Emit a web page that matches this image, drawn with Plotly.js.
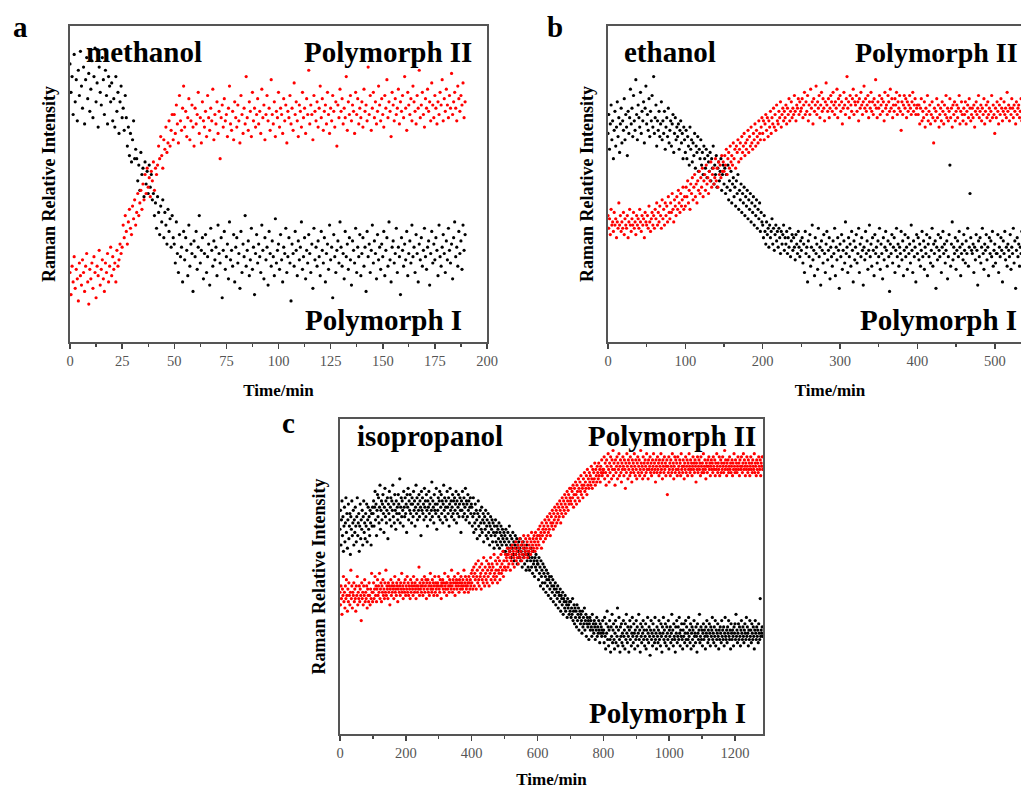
<!DOCTYPE html>
<html>
<head>
<meta charset="utf-8">
<script src="https://cdn.plot.ly/plotly-3.0.1.min.js"></script>
<style>
html, body { margin: 0; padding: 0; overflow: hidden; background: #fff; }
#chart { width: 1080px; height: 789px; }
</style>
</head>
<body>
<div id="chart"></div>
<script>
// ---------- data (relative Raman intensity, 0 = frame bottom, 100 = frame top) ----------
const panelLetters = ['a', 'b', 'c'];
const solvents = ['methanol', 'ethanol', 'isopropanol'];
const seriesNames = ['Polymorph I', 'Polymorph II'];

// sampling interval of each run (min)
const methanolStep = 0.5;
const ethanolStep = 1;
const isopropanolStep = 1.5;

const methanolTicks = [0, 25, 50, 75, 100, 125, 150, 175, 200];
const ethanolTicks = [0, 100, 200, 300, 400, 500];
const isopropanolTicks = [0, 200, 400, 600, 800, 1000, 1200];

const methanolPolyI = [
88,79,84,72,91,76,83,70,86,78,92,81,74,87,69,83,90,77,85,73,80,89,71,84,93,76,82,68,87,79,75,90,83,72,86,78,69,84,81,76,
82,70,77,68,84,73,79,66,76,81,71,74,67,78,
71,62,68,59,66,57,64,70,58,61,
58,51,56,48,60,53,55,46,57,50,54,47,56,49,53,45,
47,40,44,36,46,41,34,43,38,45,33,41,37,31,42,35,39,30,40,33,
31,25,38,28,22,34,27,30,19,35,26,33,29,21,37,24,31,28,16,32,27,35,23,30,40,25,29,33,20,28,
34,22,27,31,18,36,29,24,32,26,30,21,37,28,25,33,14,29,35,23,27,31,20,38,26,29,24,34,19,30,
33,25,28,17,35,22,31,27,40,24,29,32,21,26,36,23,30,15,28,34,25,31,27,22,37,29,20,33,26,30,
18,35,28,24,32,27,21,39,25,29,31,23,34,26,19,30,28,36,22,27,33,25,13,31,28,24,35,29,21,32,
26,30,38,23,27,33,20,29,25,34,28,22,31,17,36,26,30,24,32,27,21,35,29,25,33,19,28,31,23,37,
26,30,14,34,27,22,29,32,25,38,30,24,28,20,35,27,31,23,33,26,18,32,29,25,36,22,30,27,34,21,
28,33,24,30,16,35,27,31,22,29,37,25,32,28,20,34,26,30,23,31,27,35,21,29,33,24,38,26,19,30,
32,25,28,36,22,30,27,15,33,29,24,31,26,35,21,28,32,25,37,27,30,22,34,28,19,31,26,33,24,29,
36,27,23,30,32,18,28,35,25,31,26,33,29,21,37,27,24,30,34,28,22,32,26,36,29,25,31,20,33,38,
27,30,24,35,28,32,23,37,29,34
];
const methanolPolyII = [
22,15,24,19,27,17,23,20,13,25,21,18,26,22,16,24,28,19,12,23,20,25,17,27,22,14,24,21,29,18,
23,26,20,16,25,22,28,19,24,30,21,27,23,25,19,29,24,26,31,28,
30,37,33,40,35,31,38,42,36,34,43,39,45,37,41,47,40,44,48,42,
50,45,53,47,55,49,52,46,54,51,57,48,55,53,
56,62,58,65,59,55,64,61,68,60,63,70,62,67,72,64,
72,66,75,69,63,78,70,67,74,81,68,73,65,71,77,64,70,75,68,62,74,69,72,79,66,71,63,76,70,68,
73,65,78,71,67,74,70,80,64,72,69,76,66,73,58,71,75,68,77,70,72,65,74,81,69,67,73,64,76,71,
68,75,70,63,78,72,66,74,69,84,71,67,76,73,65,79,70,74,68,72,77,69,73,66,80,71,75,64,72,78,
70,74,67,83,72,69,76,65,73,71,79,68,74,72,66,77,70,75,63,73,71,78,69,74,67,82,72,76,70,65,
75,73,68,79,71,74,66,77,72,86,69,75,72,64,78,73,70,76,68,74,81,71,77,67,73,75,69,79,72,66,
74,70,78,73,68,76,62,75,71,80,73,77,69,74,71,84,67,76,72,78,70,75,73,66,79,72,77,69,74,71,
76,68,80,73,75,70,87,72,78,67,74,79,71,76,69,73,81,75,70,77,72,68,78,74,83,71,76,73,65,79,
75,70,77,72,74,80,69,76,73,78,71,84,74,67,79,75,72,77,70,81,76,73,69,78,74,86,71,75,79,72,
68,77,74,80,73,76,70,82,75,71,78,74,69,76,72,79,75,83,70,77,73,80,75,71,78,74,85,72,76,79,
74,70,81,77,73,78,75,82,71,76
];

const ethanolPolyI = [
66,72,61,69,75,64,70,58,67,73,62,68,76,65,71,60,69,74,63,70,67,77,64,72,68,59,73,66,71,80,
69,74,65,78,70,67,83,72,64,75,71,68,79,66,73,70,76,63,74,81,69,72,67,77,65,73,70,78,68,84,
66,71,75,62,70,67,73,65,69,76,64,70,66,73,61,68,71,65,74,63,67,70,62,69,72,60,66,71,64,68,
65,69,61,67,70,63,66,58,68,64,
60,67,58,65,62,56,68,61,64,57,63,59,66,55,62,60,65,54,61,58,64,56,60,53,62,58,55,61,52,59,
57,54,60,51,58,55,62,50,56,53,59,49,55,57,51,54,58,48,53,56,
50,55,47,53,49,56,45,51,48,54,44,50,52,46,49,43,51,47,53,42,48,45,50,41,47,44,49,40,46,43,
48,39,45,42,47,38,44,41,46,37,43,40,45,36,42,39,44,35,41,38,
37,33,40,35,31,38,34,36,30,37,33,35,39,31,36,29,34,37,32,35,30,36,33,28,35,31,34,37,29,33,
31,35,28,33,30,36,27,32,34,29,33,30,26,34,31,28,35,30,27,32,
29,33,25,31,22,35,28,30,19,32,27,34,24,30,37,26,29,21,33,28,31,23,36,27,30,18,32,29,25,34,
28,22,31,35,26,29,33,20,30,27,24,32,28,36,21,30,26,33,29,17,31,27,34,23,29,32,25,38,28,30,
22,33,27,31,24,35,29,19,32,26,30,34,25,28,36,22,31,27,33,29,18,30,26,35,28,32,23,29,37,27,
31,24,33,29,21,34,28,30,25,32,27,36,23,31,28,20,33,26,30,35,29,24,32,27,16,31,28,34,25,30,
33,22,29,36,27,31,24,30,28,35,26,32,21,29,34,27,30,23,33,28,31,25,37,29,22,32,27,30,19,34,
28,33,26,31,24,29,35,27,32,23,30,28,34,21,31,27,33,25,29,36,24,31,28,32,17,30,26,34,29,27,
33,22,30,35,28,31,25,29,32,20,27,34,56,24,31,38,26,30,28,33,23,29,32,27,35,30,21,28,31,26,
34,29,25,32,28,36,24,30,47,33,29,28,31,22,30,26,34,29,18,32,27,33,25,30,36,28,23,31,29,34,
26,30,21,33,28,32,27,35,24,29,31,25,28,28,34,22,30,27,33,29,19,32,28,35,26,30,24,31,29,27,
34,23,30,28,36,25,32,17,29,33,27,31,24,30,28,35,22,32,26,30,33,28,25,31,37,27,29,23,34,30,
26,32,29,21,31,28,35,27,30,24,33,29
];
const ethanolPolyII = [
40,36,39,34,42,37,38,35,41,37,39,33,38,36,44,37,40,35,38,36,41,34,39,37,36,40,33,38,42,37,
35,39,37,41,36,38,34,40,37,39,36,42,38,35,40,37,39,33,41,38,37,40,36,43,38,35,39,41,37,40,
36,42,39,44,37,41,38,43,40,36,45,39,42,37,44,40,43,38,46,41,39,44,41,47,42,38,45,43,40,46,
42,48,44,41,47,43,45,49,42,46,
43,49,46,51,44,48,42,50,47,52,45,49,53,46,50,44,51,48,54,47,52,49,55,46,51,53,48,56,50,52,
47,54,51,57,49,53,55,50,52,58,51,55,49,57,53,56,52,59,54,57,
54,59,56,61,53,58,60,55,62,57,59,56,63,58,61,55,62,60,64,57,61,63,58,65,60,62,66,59,63,61,
64,67,60,65,62,68,63,61,66,64,69,62,67,65,63,70,66,64,68,71,
66,70,64,69,72,67,71,65,70,68,73,66,71,69,74,68,72,67,75,70,69,73,71,76,68,72,74,70,73,71,
75,69,74,72,77,70,73,76,71,74,72,78,73,70,75,74,77,72,76,73,
74,77,71,75,79,72,76,73,78,70,75,72,80,74,76,69,77,73,75,81,72,76,74,78,71,75,79,73,77,74,
70,76,82,75,73,77,71,74,78,76,73,79,75,72,76,74,80,71,77,75,78,73,76,69,74,79,75,72,77,84,
74,76,71,78,75,73,77,80,72,76,75,78,73,76,70,77,74,79,75,72,76,81,74,77,73,75,78,71,76,74,
79,73,76,72,77,75,83,74,71,76,74,78,72,75,77,73,76,70,79,74,75,72,78,76,73,80,74,77,71,75,
73,77,75,79,72,76,74,78,73,67,76,72,75,78,74,77,71,76,73,75,78,74,72,76,79,73,75,77,72,74,
75,
72,75,69,74,77,70,73,71,76,68,74,72,78,70,73,75,69,72,76,71,63,74,70,73,77,71,75,68,72,74,
70,76,73,69,75,72,78,71,74,70,73,77,71,74,68,75,72,76,70,73,75,71,74,78,69,73,76,72,70,74,
72,76,69,73,75,71,77,74,70,72,74,71,75,68,73,76,72,74,78,71,73,75,70,74,72,77,69,73,75,71,
76,72,74,70,73,78,71,75,72,66,74,71,76,73,69,75,72,77,74,70,73,76,72,74,71,79,73,75,70,74,
72,77,74,71,75,73,69,76,72,74,75,71,73,77,70,74,72,76,73,75,71,74,78,72,75,70,73,76,74,72,
77,73,75,71,74,72,76,73,70,75,74
];

const isopropanolPolyI = [
65,71,60,68,74,63,69,58,66,72,61,67,75,64,70,59,68,73,62,66,70,57,69,65,74,63,67,71,60,68,
64,72,66,61,69,75,63,67,70,58,66,73,62,68,65,71,60,69,74,64,67,62,70,66,73,61,68,72,65,69,
63,71,67,60,70,66,72,
70,74,66,72,77,68,73,63,71,76,69,75,67,72,79,65,71,74,68,73,76,70,64,72,78,69,74,67,71,75,
62,73,70,77,68,72,75,66,74,71,79,69,73,67,76,71,65,74,70,72,68,76,73,70,81,67,72,75,69,74,
71,66,77,72,69,75,70,73,64,76,72,78,68,74,71,76,70,73,67,75,73,69,77,71,74,66,72,79,70,75,
68,73,71,76,69,74,72,63,77,71,75,70,73,68,78,72,74,69,76,71,66,74,72,77,70,73,68,75,71,80,
69,74,72,67,76,71,73,70,78,65,73,71,75,69,74,77,68,72,76,70,74,67,73,79,71,75,69,72,74,68,
77,72,70,75,66,73,78,71,74,69,72,76,70,74,68,75,71,73,77,67,74,70,72,76,69,73,75,71,64,74,
71,77,69,73,75,70,72,78,68,74,73,69,76,71,74,67,72,75,70,73,
72,66,69,75,64,70,67,73,65,71,68,62,70,74,66,69,63,71,67,65,72,64,68,70,61,67,69,65,71,63,
66,68,62,70,64,67,60,66,69,63,65,68,61,67,64,59,66,63,68,61,64,66,60,65,62,67,59,64,61,66,
63,60,65,62,58,64,61,
63,58,65,60,62,57,64,59,61,66,58,63,60,56,62,59,64,57,61,55,60,63,57,59,62,54,60,58,61,56,
59,62,55,58,60,53,57,61,56,59,54,58,57,52,60,55,57,53,58,56,52,57,55,59,53,56,51,58,54,55,
50,56,53,57,52,55,54,
54,49,56,51,53,47,55,50,52,48,54,46,51,53,48,50,45,52,49,47,51,44,49,50,46,48,43,50,47,45,
49,42,47,46,44,48,41,46,45,43,47,40,45,44,42,46,39,44,43,41,45,38,43,42,40,44,39,42,41,37,
43,40,41,38,42,39,
42,37,40,38,43,36,39,41,35,40,37,39,34,41,36,38,40,33,37,39,35,38,36,32,39,34,37,35,40,33,
36,38,31,35,37,34,36,30,35,37,33,36,34,31,38,33,35,32,36,34,30,35,33,37,31,34,32,36,33,29,
35,32,34,31,33,36,32,
33,29,37,31,27,35,32,39,30,34,28,33,36,30,26,34,31,38,29,33,35,30,27,32,36,29,34,31,40,28,
33,37,30,26,34,31,35,29,32,28,36,31,33,27,35,30,38,32,29,34,31,26,33,36,30,34,28,32,37,31,
29,35,32,27,33,30,36,31,34,28,32,38,30,33,26,35,31,29,34,32,36,30,33,28,31,35,27,33,30,37,
32,29,34,31,25,33,36,30,32,28,35,31,33,29,37,30,32,27,34,31,29,33,36,30,32,28,35,31,26,34,
32,37,30,33,29,35,31,28,34,32,30,36,27,33,31,34,29,32,38,30,33,28,35,31,30,26,34,32,36,29,
31,34,30,37,32,28,33,31,35,30,27,33,31,35,29,32,36,30,34,28,32,30,37,31,33,29,35,27,32,34,
30,33,28,36,31,32,29,34,31,26,35,32,30,33,38,29,31,34,30,33,28,32,35,30,33,31,27,34,32,36,
31,29,33,30,35,32,28,34,31,33,37,30,32,29,34,31,36,28,33,30,32,35,31,27,33,30,34,32,29,36,
31,33,30,34,28,32,37,31,30,33,29,34,32,36,31,30,33,27,35,32,30,33,31,28,34,32,35,30,38,31,
33,29,32,35,30,34,31,28,33,36,32,30,34,31,29,33,35,32,30,37,31,34,32,28,33,30,36,31,33,29,
35,32,30,34,31,27,33,36,32,30,34,31,33,29,35,32,30,43,31,33,32,34,31
];
const isopropanolPolyII = [
45,41,47,43,38,46,44,50,42,45,40,47,43,49,44,39,46,42,48,44,41,45,52,43,47,40,45,44,48,42,
46,43,39,47,44,50,41,45,43,47,42,46,44,36,48,43,45,41,47,44,49,42,45,43,47,40,46,44,42,48,
44,41,46,43,51,45,42,
45,48,43,46,50,44,47,42,46,49,44,47,45,51,43,46,48,42,47,45,49,44,46,43,48,45,52,44,47,46,
43,48,45,47,41,46,49,44,47,45,48,46,43,47,50,45,46,44,48,47,42,46,49,45,47,44,48,46,51,45,
47,43,46,48,45,49,44,47,46,50,45,48,44,47,46,43,49,45,47,48,46,44,50,47,45,48,46,43,47,49,
45,47,46,53,44,48,46,47,45,49,47,44,48,46,50,45,47,49,43,48,46,49,45,47,44,48,51,46,47,45,
49,46,48,44,47,50,45,48,46,47,44,48,47,50,46,45,49,47,43,48,47,49,46,48,45,51,47,46,48,44,
48,46,50,47,45,49,47,48,46,52,47,45,49,48,46,50,44,48,47,49,46,48,51,47,45,49,48,46,50,47,
48,46,49,47,52,45,48,50,47,46,49,47,48,45,50,48,46,49,47,51,
48,52,46,50,53,47,51,49,54,46,50,52,48,55,49,47,53,50,51,46,54,49,52,48,56,50,47,53,51,49,
55,48,52,50,54,47,53,51,56,49,52,54,48,53,50,57,51,49,55,52,50,54,48,56,52,51,55,49,53,57,
51,54,52,58,50,55,53,
53,57,52,56,55,59,53,57,54,58,56,52,59,55,57,60,54,58,56,53,59,57,61,55,58,56,60,54,59,57,
62,56,58,60,55,61,57,59,63,56,60,58,62,57,59,61,56,63,58,60,62,59,57,61,64,58,60,62,59,63,
61,58,64,60,62,59,63,
61,65,60,63,66,62,64,59,67,63,65,61,66,64,68,62,65,67,63,69,66,64,68,65,70,63,67,69,66,71,
67,65,70,68,72,66,69,71,67,73,70,68,72,69,74,71,67,73,70,75,72,69,74,71,76,73,70,75,72,77,
74,71,76,73,78,75,
74,78,73,77,75,79,72,76,78,74,80,76,73,79,77,75,81,78,74,80,77,82,76,79,78,75,81,79,83,77,
80,78,82,76,84,79,81,78,83,80,82,79,85,81,78,84,80,83,81,86,79,84,82,80,85,83,81,86,82,84,
80,85,83,87,82,84,83,
84,88,81,86,83,79,87,85,82,89,84,80,86,83,88,85,81,87,84,90,82,86,84,79,87,83,85,88,81,86,
84,89,82,85,87,83,80,86,84,88,85,82,87,84,78,86,83,89,85,81,87,84,86,82,88,83,85,80,87,84,
86,83,89,85,82,87,84,81,86,88,83,85,87,82,84,90,86,83,85,81,88,84,86,82,87,85,83,89,84,86,
81,87,84,85,88,83,86,82,84,87,85,89,83,86,84,80,87,85,83,88,84,86,82,87,85,83,89,84,86,81,
87,85,83,88,84,86,82,85,87,76,85,83,88,84,86,82,87,85,83,89,84,86,81,85,88,83,87,84,86,82,
88,84,85,83,87,86,82,89,84,85,83,87,85,81,86,84,88,83,85,87,82,86,84,89,85,83,87,84,86,82,
85,88,84,86,83,87,85,80,86,84,88,83,85,87,84,86,82,88,85,83,86,84,89,83,85,87,84,81,86,85,
83,87,85,88,84,86,82,85,87,84,86,83,88,85,84,87,82,86,84,89,85,83,86,84,88,82,85,87,83,86,
84,88,85,83,86,90,84,87,85,82,86,84,87,83,85,88,84,86,83,85,87,82,86,84,89,85,83,87,84,86,
83,85,88,84,86,82,87,85,84,88,85,83,86,89,84,87,85,82,86,84,88,85,83,87,84,86,82,85,88,84,
86,83,87,85,84,89,83,86,85,82,87,84,86,83,88,85,84,87,82,86,85,88,84
];

// ---------- figure ----------
const W = 1080, H = 789;
const serif = 'Liberation Serif, Times New Roman, serif';
const px = v => v / W;           // horizontal pixel -> paper fraction
const py = v => 1 - v / H;       // vertical pixel (from top) -> paper fraction

function times(values, step) { return values.map((_, i) => i * step); }

function pts(values, step, color, xa, ya, name) {
  return {
    type: 'scatter', mode: 'markers', name: name,
    x: times(values, step), y: values,
    xaxis: xa, yaxis: ya,
    marker: { color: color, size: 3.2, line: { width: 0 } },
    hoverinfo: 'skip'
  };
}

const RED = 'rgb(255,0,0)', BLACK = '#000';
const data = [
  pts(methanolPolyI, methanolStep, BLACK, 'x', 'y', seriesNames[0]),
  pts(methanolPolyII, methanolStep, RED, 'x', 'y', seriesNames[1]),
  pts(ethanolPolyI, ethanolStep, BLACK, 'x2', 'y2', seriesNames[0]),
  pts(ethanolPolyII, ethanolStep, RED, 'x2', 'y2', seriesNames[1]),
  pts(isopropanolPolyI, isopropanolStep, BLACK, 'x3', 'y3', seriesNames[0]),
  pts(isopropanolPolyII, isopropanolStep, RED, 'x3', 'y3', seriesNames[1])
];

function xAxis(domain, anchor, range, ticks, minorStep) {
  return {
    domain: domain, anchor: anchor, range: range,
    tickmode: 'array', tickvals: ticks, ticktext: ticks.map(String),
    showline: true, mirror: true, linecolor: '#555', linewidth: 1.6,
    ticks: 'outside', ticklen: 5, tickwidth: 1.5, tickcolor: '#444',
    minor: { ticks: 'outside', ticklen: 3, tickwidth: 1.3, tickcolor: '#444', dtick: minorStep, tick0: 0, showgrid: false },
    showgrid: false, zeroline: false,
    tickfont: { family: serif, size: 14.5, color: '#555' },
    title: { text: 'Time/min', font: { family: serif, size: 17, weight: 'bold', color: '#000' }, standoff: 16 },
    automargin: false, fixedrange: true
  };
}
function yAxis(domain, anchor) {
  return {
    domain: domain, anchor: anchor, range: [0, 100],
    showline: true, mirror: true, linecolor: '#555', linewidth: 1.6,
    ticks: '', showticklabels: false, showgrid: false, zeroline: false,
    title: { text: 'Raman Relative Intensity', font: { family: serif, size: 18, weight: 'bold', color: '#000' }, standoff: 8 },
    automargin: false, fixedrange: true
  };
}

const topDom = [py(342), py(26)];
const botDom = [py(734), py(419)];

function label(text, x, y, xanchor, size) {
  return {
    text: text, xref: 'paper', yref: 'paper', x: px(x), y: py(y),
    xanchor: xanchor, yanchor: 'middle', showarrow: false,
    font: { family: serif, size: size, weight: 'bold', color: '#000' }
  };
}

const layout = {
  width: W, height: H,
  margin: { l: 0, r: 0, t: 0, b: 0 },
  paper_bgcolor: '#fff', plot_bgcolor: '#fff',
  showlegend: false,
  font: { family: serif, color: '#000' },
  xaxis: xAxis([px(70), px(487)], 'y', [0, 200], methanolTicks, 12.5),
  yaxis: yAxis(topDom, 'x'),
  xaxis2: xAxis([px(608), px(1052)], 'y2', [0, 574], ethanolTicks, 50),
  yaxis2: yAxis(topDom, 'x2'),
  xaxis3: xAxis([px(340), px(763)], 'y3', [0, 1285], isopropanolTicks, 100),
  yaxis3: yAxis(botDom, 'x3'),
  annotations: [
    label(panelLetters[0], 20, 27, 'center', 29),
    label(panelLetters[1], 555, 27, 'center', 29),
    label(panelLetters[2], 288, 423, 'center', 29),
    label(solvents[0], 84, 52, 'left', 29),
    label(seriesNames[1], 474, 52, 'right', 29),
    label(seriesNames[0], 464, 320, 'right', 29),
    label(solvents[1], 622, 52, 'left', 29),
    label(seriesNames[1], 853, 52, 'left', 28),
    label(seriesNames[0], 858, 320, 'left', 29),
    label(solvents[2], 355, 436, 'left', 29),
    label(seriesNames[1], 758, 436, 'right', 29),
    label(seriesNames[0], 748, 713, 'right', 29)
  ]
};

Plotly.newPlot('chart', data, layout, { staticPlot: true, displayModeBar: false });
</script>
</body>
</html>
